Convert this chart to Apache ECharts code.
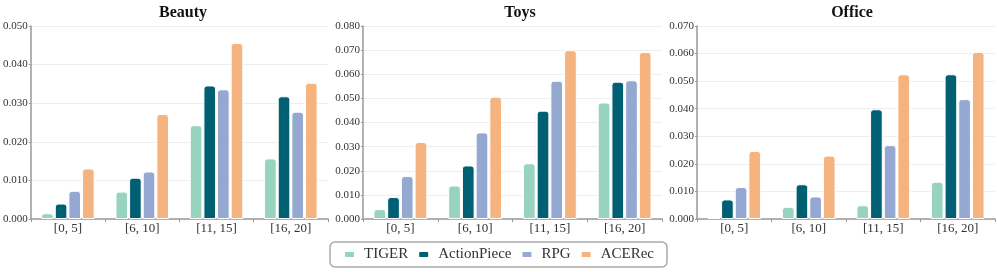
<!DOCTYPE html>
<html>
<head>
<meta charset="utf-8">
<script src="https://cdn.jsdelivr.net/npm/echarts@6/dist/echarts.min.js"></script>
<style>
html,body{margin:0;padding:0;background:#fff;}
#c{width:997px;height:272px;}
</style>
</head>
<body>
<div id="c"></div>
<script>
const categories = ['[0, 5]', '[6, 10]', '[11, 15]', '[16, 20]'];
const seriesNames = ['TIGER', 'ActionPiece', 'RPG', 'ACERec'];
const panelTitles = ['Beauty', 'Toys', 'Office'];
const yMax = [0.05, 0.08, 0.07];

const beautyTIGER = [0.0015, 0.0071, 0.0243, 0.0157];
const beautyActionPiece = [0.0040, 0.0107, 0.0346, 0.0318];
const beautyRPG = [0.0073, 0.0123, 0.0336, 0.0278];
const beautyACERec = [0.0131, 0.0272, 0.0456, 0.0353];

const toysTIGER = [0.0041, 0.0139, 0.0231, 0.0483];
const toysActionPiece = [0.0091, 0.0222, 0.0449, 0.0569];
const toysRPG = [0.0178, 0.0359, 0.0573, 0.0575];
const toysACERec = [0.0319, 0.0507, 0.0700, 0.0692];

const officeTIGER = [0.0004, 0.0044, 0.0050, 0.0135];
const officeActionPiece = [0.0071, 0.0126, 0.0398, 0.0525];
const officeRPG = [0.0116, 0.0082, 0.0268, 0.0435];
const officeACERec = [0.0247, 0.0230, 0.0525, 0.0606];

const panelData = [
  [beautyTIGER, beautyActionPiece, beautyRPG, beautyACERec],
  [toysTIGER, toysActionPiece, toysRPG, toysACERec],
  [officeTIGER, officeActionPiece, officeRPG, officeACERec]
];
const colors = ['#97d3bd', '#005f73', '#94a8d1', '#f5b47f'];
const FONT = '"Liberation Serif", "Times New Roman", serif';

const grids = [
  {left: 29, right: 669, top: 26, bottom: 53},
  {left: 363, right: 335, top: 26, bottom: 53},
  {left: 697, right: 2, top: 26, bottom: 53}
];
const titleCenters = [178, 515, 847];

const option = {
  animation: false,
  color: colors,
  title: panelTitles.map((t, i) => ({
    text: t, left: titleCenters[i], top: 0, textAlign: 'center',
    textStyle: {fontFamily: FONT, fontWeight: 'bold', fontSize: 16, color: '#111'}
  })),
  legend: {
    data: seriesNames,
    left: 'center', top: 242,
    itemWidth: 11, itemHeight: 7, itemGap: 9,
    icon: 'roundRect',
    borderColor: '#aaa', borderWidth: 1.5, borderRadius: 5,
    padding: [5, 13, 5, 13],
    textStyle: {fontFamily: FONT, fontSize: 15, color: '#333', padding: [0, 0, 0, 4]}
  },
  grid: grids,
  xAxis: grids.map((g, i) => ({
    type: 'category', gridIndex: i, data: categories,
    axisLine: {lineStyle: {color: '#999', width: 1.5}},
    axisTick: {show: true, length: 3, lineStyle: {color: '#999'}},
    axisLabel: {fontFamily: FONT, fontSize: 13, color: '#333', margin: 3}
  })),
  yAxis: grids.map((g, i) => ({
    type: 'value', gridIndex: i, min: 0, max: yMax[i], interval: 0.01,
    axisLine: {show: true, lineStyle: {color: '#999', width: 1.5}},
    axisTick: {show: true, length: 2, lineStyle: {color: '#999'}},
    splitLine: {lineStyle: {color: '#eee'}},
    axisLabel: {fontFamily: FONT, fontSize: 11, color: '#333', margin: 3,
      formatter: v => v.toFixed(3)}
  })),
  series: []
};
panelData.forEach((arrs, p) => {
  arrs.forEach((vals, s) => {
    option.series.push({
      type: 'bar', name: seriesNames[s], xAxisIndex: p, yAxisIndex: p,
      data: vals, barGap: '8%', barCategoryGap: '28%',
      itemStyle: {color: colors[s], borderColor: '#fff', borderWidth: 1, borderRadius: [3, 3, 0, 0]}
    });
  });
});
const chart = echarts.init(document.getElementById('c'), null, {renderer: 'canvas'});
chart.setOption(option);
</script>
</body>
</html>
